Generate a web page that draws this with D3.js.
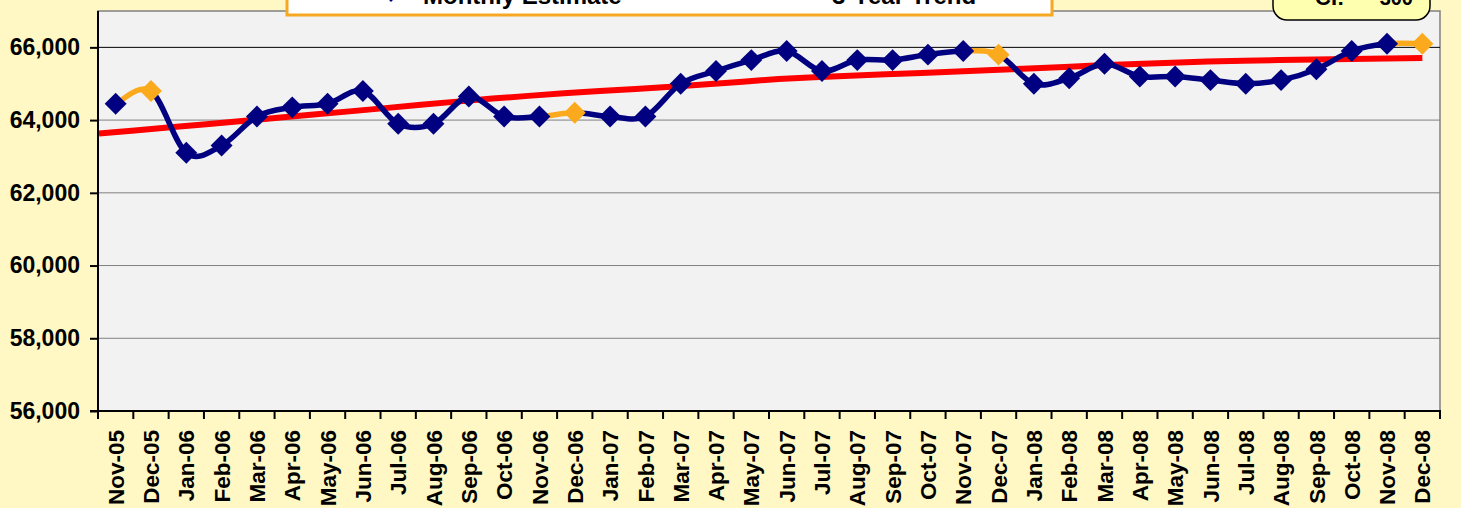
<!DOCTYPE html>
<html>
<head>
<meta charset="utf-8">
<script src="https://cdn.jsdelivr.net/npm/d3@7"></script>
<style>
  body { margin: 0; background: #FFF8C4; }
  svg { display: block; font-family: Arial, "Liberation Sans", sans-serif; }
</style>
</head>
<body>
<div id="chart"></div>
<script>
// chart data
const months = ['Nov-05','Dec-05','Jan-06','Feb-06','Mar-06','Apr-06','May-06','Jun-06','Jul-06','Aug-06',
  'Sep-06','Oct-06','Nov-06','Dec-06','Jan-07','Feb-07','Mar-07','Apr-07','May-07','Jun-07','Jul-07',
  'Aug-07','Sep-07','Oct-07','Nov-07','Dec-07','Jan-08','Feb-08','Mar-08','Apr-08','May-08','Jun-08',
  'Jul-08','Aug-08','Sep-08','Oct-08','Nov-08','Dec-08'];

const monthlyEstimate = [64450, 64800, 63100, 63300, 64100, 64350, 64450, 64800, 63900, 63900,
  64650, 64100, 64100, 64200, 64100, 64100, 65000, 65350, 65650, 65900, 65350,
  65650, 65650, 65800, 65900, 65800, 65000, 65150, 65550, 65200, 65200, 65100,
  65000, 65100, 65400, 65900, 66100, 66100];

const threeYearTrend = [63630, 63716, 63802, 63888, 63974, 64062, 64151, 64240, 64329, 64419,
  64508, 64592, 64666, 64738, 64797, 64855, 64914, 64983, 65056, 65129, 65176,
  65218, 65259, 65298, 65337, 65376, 65417, 65461, 65505, 65541, 65577, 65610,
  65630, 65650, 65667, 65680, 65693, 65706];

const yTicks = [56000, 58000, 60000, 62000, 64000, 66000];
const legendLabels = ['Monthly Estimate', '3-Year Trend'];
const ciLabel = 'CI:';
const ciValue = '300';

const width = 1461, height = 508;
const plot = { left: 98, right: 1440, top: 11, bottom: 411 };
const navy = '#000080', orange = '#FAAA1C', red = '#FF0000';

const svg = d3.select('#chart').append('svg')
    .attr('width', width)
    .attr('height', height);

const x = d3.scaleBand().domain(months).range([plot.left, plot.right]).padding(0);
const bw = x.bandwidth();
const cx = m => x(m) + bw / 2;
const y = d3.scaleLinear().domain([56000, 67000]).range([plot.bottom, plot.top]);
// trend series runs from the plot edge to the last month
const xTrend = d3.scalePoint().domain(months).range([plot.left + 1, cx(months[months.length - 1])]);

// plot area
svg.append('rect')
    .attr('x', plot.left).attr('y', plot.top)
    .attr('width', plot.right - plot.left).attr('height', plot.bottom - plot.top)
    .attr('fill', '#F2F2F2')
    .attr('stroke', '#808080').attr('stroke-width', 1.5);

// gridlines
svg.append('g').selectAll('line')
    .data(yTicks.slice(1))
    .join('line')
    .attr('x1', plot.left).attr('x2', plot.right)
    .attr('y1', d => y(d)).attr('y2', d => y(d))
    .attr('stroke', d => d === 66000 ? '#000' : '#808080')
    .attr('stroke-width', 1);

// y axis
const yAxis = svg.append('g')
    .attr('transform', `translate(${plot.left},0)`)
    .call(d3.axisLeft(y).tickValues(yTicks).tickSize(8).tickPadding(10).tickFormat(d3.format(',')));
yAxis.select('.domain').remove();
yAxis.selectAll('.tick line').attr('stroke', '#000').attr('stroke-width', 2);
yAxis.selectAll('.tick text')
    .attr('font-size', 23).attr('font-weight', 'bold').attr('fill', '#000')
    .attr('font-family', 'Arial, "Liberation Sans", sans-serif');

// x axis labels
const xAxis = svg.append('g')
    .attr('transform', `translate(0,${plot.bottom})`)
    .call(d3.axisBottom(x).tickSize(0).tickPadding(0));
xAxis.select('.domain').remove();
xAxis.selectAll('.tick text')
    .attr('transform', 'rotate(-90)')
    .attr('x', -19).attr('y', 0).attr('dy', '0.36em')
    .attr('text-anchor', 'end')
    .attr('font-size', 22.5).attr('font-weight', 'bold').attr('fill', '#000')
    .attr('font-family', 'Arial, "Liberation Sans", sans-serif');

// x tick marks at category boundaries
svg.append('g').selectAll('line')
    .data(months.map(m => x(m)).concat([plot.right]))
    .join('line')
    .attr('x1', d => d).attr('x2', d => d)
    .attr('y1', plot.bottom).attr('y2', plot.bottom + 8)
    .attr('stroke', '#000').attr('stroke-width', 2);

// axis lines
svg.append('line')
    .attr('x1', plot.left).attr('x2', plot.left)
    .attr('y1', plot.top).attr('y2', plot.bottom + 1)
    .attr('stroke', '#000').attr('stroke-width', 2);
svg.append('line')
    .attr('x1', plot.left - 8).attr('x2', plot.right + 1)
    .attr('y1', plot.bottom).attr('y2', plot.bottom)
    .attr('stroke', '#000').attr('stroke-width', 2);

// trend line
svg.append('path')
    .datum(threeYearTrend)
    .attr('d', d3.line().x((d, i) => xTrend(months[i])).y(d => y(d)))
    .attr('fill', 'none')
    .attr('stroke', red).attr('stroke-width', 6)
    .attr('stroke-linecap', 'butt');

// smoothed estimate line, drawn segment by segment (Nov -> Dec in orange)
const pts = months.map((m, i) => [cx(m), y(monthlyEstimate[i])]);
const n = pts.length;
function segment(i) {
    const p0 = pts[Math.max(i - 1, 0)], p1 = pts[i], p2 = pts[i + 1], p3 = pts[Math.min(i + 2, n - 1)];
    const p = d3.path();
    p.moveTo(p1[0], p1[1]);
    p.bezierCurveTo(
        p1[0] + (p2[0] - p0[0]) / 6, p1[1] + (p2[1] - p0[1]) / 6,
        p2[0] - (p3[0] - p1[0]) / 6, p2[1] - (p3[1] - p1[1]) / 6,
        p2[0], p2[1]);
    return p.toString();
}
const segIdx = d3.range(n - 1);
const isNov = i => months[i].startsWith('Nov');

svg.append('path')
    .attr('d', segIdx.filter(i => !isNov(i)).map(segment).join(''))
    .attr('fill', 'none').attr('stroke', navy).attr('stroke-width', 5.5)
    .attr('stroke-linecap', 'round').attr('stroke-linejoin', 'round');
svg.append('path')
    .attr('d', segIdx.filter(isNov).map(segment).join(''))
    .attr('fill', 'none').attr('stroke', orange).attr('stroke-width', 5.5)
    .attr('stroke-linecap', 'round');

// diamond markers
const diamond = d3.symbol(d3.symbolSquare, 240);
svg.append('g').selectAll('path')
    .data(months)
    .join('path')
    .attr('d', diamond)
    .attr('transform', (m, i) => `translate(${cx(m)},${y(monthlyEstimate[i])}) rotate(45)`)
    .attr('fill', m => m.startsWith('Dec') ? orange : navy);

// legend (top cut off)
const legend = svg.append('g');
legend.append('rect')
    .attr('x', 287).attr('y', -40).attr('width', 765).attr('height', 55)
    .attr('fill', '#fff').attr('stroke', '#F7A823').attr('stroke-width', 3);
legend.append('line')
    .attr('x1', 362).attr('x2', 420).attr('y1', -9).attr('y2', -9)
    .attr('stroke', navy).attr('stroke-width', 5);
legend.append('path')
    .attr('d', diamond)
    .attr('transform', 'translate(391,-9) rotate(45)')
    .attr('fill', navy);
legend.append('line')
    .attr('x1', 740).attr('x2', 800).attr('y1', -10).attr('y2', -10)
    .attr('stroke', red).attr('stroke-width', 5);
legend.selectAll('text')
    .data(legendLabels)
    .join('text')
    .attr('x', (d, i) => i === 0 ? 423 : 832)
    .attr('y', 4)
    .attr('font-size', 24).attr('font-weight', 'bold').attr('fill', '#000')
    .text(d => d);

// confidence interval box
const ci = svg.append('g');
ci.append('rect')
    .attr('x', 1273).attr('y', -25).attr('width', 157).attr('height', 45)
    .attr('rx', 14)
    .attr('fill', '#FFFFB0').attr('stroke', '#000').attr('stroke-width', 1.5);
ci.append('text')
    .attr('x', 1315).attr('y', 5)
    .attr('font-size', 22).attr('font-weight', 'bold')
    .text(ciLabel);
ci.append('text')
    .attr('x', 1413).attr('y', 5)
    .attr('text-anchor', 'end')
    .attr('font-size', 20).attr('font-weight', 'bold')
    .text(ciValue);
</script>
</body>
</html>
